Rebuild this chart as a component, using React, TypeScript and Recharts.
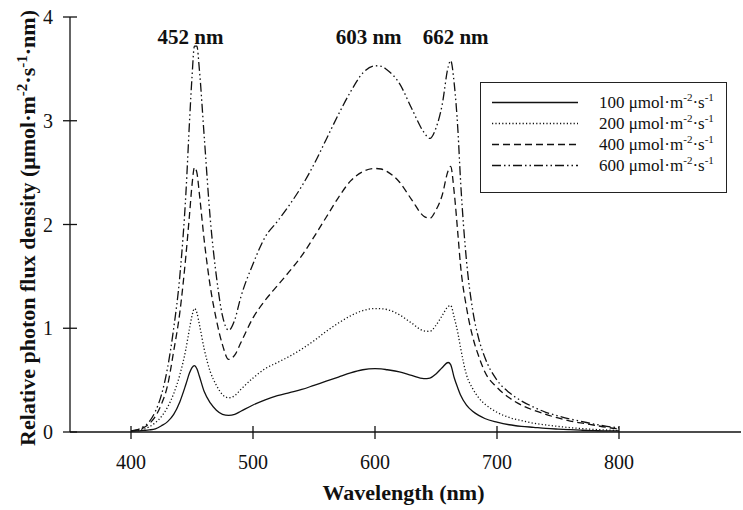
import React from 'react';
import { LineChart, Line, XAxis, YAxis, Legend, ReferenceDot } from 'recharts';

const FONT = '"Liberation Serif", "Times New Roman", Times, serif';
const INK = '#111';

const wavelengths = [400, 405, 410, 415, 420, 425, 430, 435, 440, 445, 448, 450, 452, 454, 456, 460, 465, 470, 475, 480, 485, 490, 500, 510, 520, 530, 540, 550, 560, 570, 580, 590, 600, 605, 610, 620, 630, 640, 645, 650, 655, 660, 662, 665, 668, 670, 675, 680, 685, 690, 700, 710, 720, 730, 740, 750, 760, 770, 780, 790, 800];

const series100 = [0.01, 0.01, 0.015, 0.02, 0.03, 0.06, 0.1, 0.17, 0.29, 0.46, 0.57, 0.62, 0.64, 0.61, 0.54, 0.39, 0.28, 0.21, 0.17, 0.16, 0.17, 0.2, 0.26, 0.31, 0.35, 0.38, 0.41, 0.45, 0.49, 0.53, 0.57, 0.6, 0.61, 0.608, 0.6, 0.58, 0.545, 0.515, 0.52, 0.56, 0.62, 0.67, 0.65, 0.52, 0.42, 0.36, 0.26, 0.2, 0.16, 0.13, 0.095, 0.07, 0.055, 0.045, 0.035, 0.028, 0.022, 0.017, 0.013, 0.01, 0.01];

const series200 = [0.01, 0.015, 0.025, 0.05, 0.09, 0.15, 0.24, 0.37, 0.55, 0.8, 1.0, 1.12, 1.19, 1.15, 1.04, 0.8, 0.58, 0.45, 0.36, 0.33, 0.35, 0.41, 0.52, 0.61, 0.67, 0.73, 0.8, 0.88, 0.97, 1.05, 1.12, 1.17, 1.19, 1.188, 1.18, 1.13, 1.05, 0.975, 0.97, 1.03, 1.12, 1.21, 1.22, 1.1, 0.95, 0.82, 0.55, 0.42, 0.33, 0.27, 0.19, 0.14, 0.11, 0.085, 0.068, 0.054, 0.042, 0.032, 0.025, 0.019, 0.015];

const series400 = [0.01, 0.02, 0.04, 0.08, 0.15, 0.27, 0.45, 0.78, 1.15, 1.7, 2.1, 2.38, 2.55, 2.5, 2.3, 1.85, 1.4, 1.08, 0.84, 0.7, 0.74, 0.86, 1.1, 1.27, 1.41, 1.55, 1.7, 1.88, 2.07, 2.26, 2.42, 2.51, 2.54, 2.535, 2.51, 2.41, 2.24, 2.08, 2.06, 2.14, 2.28, 2.52, 2.56, 2.3, 1.9, 1.62, 1.2, 0.92, 0.73, 0.58, 0.43, 0.33, 0.26, 0.21, 0.17, 0.135, 0.105, 0.085, 0.065, 0.045, 0.03];

const series600 = [0.01, 0.02, 0.05, 0.1, 0.2, 0.36, 0.62, 1.0, 1.5, 2.3, 3.0, 3.42, 3.72, 3.72, 3.5, 2.85, 2.05, 1.5, 1.12, 0.98, 1.08, 1.3, 1.62, 1.88, 2.03, 2.19, 2.37, 2.58, 2.82, 3.06, 3.28, 3.46, 3.53, 3.525, 3.49, 3.36, 3.12, 2.89, 2.83, 2.93, 3.15, 3.52, 3.58, 3.35, 2.9, 2.45, 1.65, 1.18, 0.9, 0.72, 0.5, 0.38, 0.3, 0.24, 0.19, 0.155, 0.125, 0.1, 0.075, 0.055, 0.04];

const seriesNames = ['100', '200', '400', '600'];
const xTicks = [400, 500, 600, 700, 800];
const yTicks = [0, 1, 2, 3, 4];
const peakWavelengths = [452, 603, 662];
const peakLabels = ['452 nm', '603 nm', '662 nm'];
const peakLabelLevel = 3.74;

const data = wavelengths.map((wl, i) => ({
  wl,
  s100: series100[i],
  s200: series200[i],
  s400: series400[i],
  s600: series600[i],
}));

const dashes = [undefined, '1.2 2.2', '7 4', '9 3 1.5 3 1.5 3'];
const peakDx = [-4, -10, 5];

const BottomTick = (props: any) => {
  const { x, y, payload } = props;
  return (
    <g>
      <line x1={x} x2={x} y1={y - 6} y2={y + 7} stroke={INK} strokeWidth={1.3} />
      <text x={x} y={y + 37} textAnchor="middle" fontFamily={FONT} fontSize={20} fill={INK}>
        {payload.value}
      </text>
    </g>
  );
};

const TopTick = (props: any) => {
  const { x, y } = props;
  return <line x1={x} x2={x} y1={y - 6} y2={y + 6} stroke={INK} strokeWidth={1.3} />;
};

const LeftTick = (props: any) => {
  const { x, y, payload } = props;
  return (
    <g>
      <line x1={x - 7} x2={x + 7} y1={y} y2={y} stroke={INK} strokeWidth={1.3} />
      <text x={x - 17} y={y + 7} textAnchor="end" fontFamily={FONT} fontSize={20} fill={INK}>
        {payload.value}
      </text>
    </g>
  );
};

const YTitle = (props: any) => {
  const cx = 35;
  const cy = 228;
  return (
    <text
      x={cx}
      y={cy}
      transform={`rotate(-90, ${cx}, ${cy})`}
      textAnchor="middle"
      fontFamily={FONT}
      fontSize={22}
      fontWeight="bold"
      fill={INK}
    >
      Relative photon flux density (μmol·m
      <tspan dy={-8} fontSize={15}>-2</tspan>
      <tspan dy={8}>·s</tspan>
      <tspan dy={-8} fontSize={15}>-1</tspan>
      <tspan dy={8}>·nm)</tspan>
    </text>
  );
};

const XTitle = (props: any) => {
  const vb = props.viewBox || {};
  const cx = vb.x + vb.width / 2;
  return (
    <text x={cx - 2} y={500} textAnchor="middle" fontFamily={FONT} fontSize={22} fontWeight="bold" fill={INK}>
      Wavelength (nm)
    </text>
  );
};

const renderLegend = (props: any) => {
  const { payload } = props;
  return (
    <div
      style={{
        width: 247,
        height: 111,
        border: '1.5px solid #222',
        boxSizing: 'border-box',
        paddingTop: 9,
        background: '#fff',
        fontFamily: FONT,
      }}
    >
      {(payload || []).map((entry: any) => (
        <div key={entry.value} style={{ display: 'flex', alignItems: 'center', height: 21 }}>
          <svg width={86} height={21} style={{ marginLeft: 11, flex: 'none', display: 'block' }}>
            <line
              x1={0}
              x2={86}
              y1={10.5}
              y2={10.5}
              stroke={INK}
              strokeWidth={1.4}
              strokeDasharray={entry.payload?.strokeDasharray}
            />
          </svg>
          <span style={{ marginLeft: 21, fontSize: 17, color: INK, whiteSpace: 'nowrap', lineHeight: 1 }}>
            {entry.value} μmol·m
            <span style={{ fontSize: '0.65em', position: 'relative', top: '-0.6em' }}>-2</span>
            ·s
            <span style={{ fontSize: '0.65em', position: 'relative', top: '-0.6em' }}>-1</span>
          </span>
        </div>
      ))}
    </div>
  );
};

export default function App() {
  const keys = ['s100', 's200', 's400', 's600'];
  return (
    <div style={{ position: 'absolute', left: 0, top: 0, width: 743, height: 510, background: '#fff' }}>
      <LineChart width={743} height={510} data={data} margin={{ top: 17, right: 2, bottom: 0, left: 0 }}>
        <XAxis
          dataKey="wl"
          type="number"
          domain={[350, 900]}
          ticks={xTicks}
          height={78}
          tickSize={0}
          tickMargin={0}
          tickLine={false}
          axisLine={{ stroke: INK, strokeWidth: 1.3 }}
          tick={<BottomTick />}
          interval={0}
          allowDataOverflow
          label={<XTitle />}
        />
        <XAxis
          xAxisId="top"
          orientation="top"
          dataKey="wl"
          type="number"
          domain={[350, 900]}
          ticks={xTicks}
          height={0}
          tickSize={0}
          tickMargin={0}
          tickLine={false}
          axisLine={{ stroke: INK, strokeWidth: 1.3 }}
          tick={<TopTick />}
          interval={0}
          allowDataOverflow
        />
        <YAxis
          type="number"
          domain={[0, 4]}
          ticks={yTicks}
          width={70}
          tickSize={0}
          tickMargin={0}
          tickLine={false}
          axisLine={{ stroke: INK, strokeWidth: 1.3 }}
          tick={<LeftTick />}
          interval={0}
          allowDataOverflow
          label={<YTitle />}
        />
        <Legend
          content={renderLegend}
          layout="vertical"
          align="center"
          verticalAlign="middle"
          wrapperStyle={{ left: 480, top: 82, width: 247, height: 111 }}
        />
        {keys.map((k, i) => (
          <Line
            key={k}
            dataKey={k}
            name={seriesNames[i]}
            type="monotone"
            stroke={INK}
            strokeWidth={1.3}
            strokeDasharray={dashes[i]}
            dot={false}
            activeDot={false}
            isAnimationActive={false}
          />
        ))}
        {peakWavelengths.map((p, i) => (
          <ReferenceDot
            key={p}
            x={p}
            y={peakLabelLevel}
            r={0}
            fill="none"
            stroke="none"
            ifOverflow="visible"
            label={(lp: any) => {
              const vb = lp.viewBox || {};
              return (
                <text
                  x={vb.x + peakDx[i]}
                  y={vb.y}
                  textAnchor="middle"
                  fontFamily={FONT}
                  fontSize={21}
                  fontWeight="bold"
                  fill={INK}
                >
                  {peakLabels[i]}
                </text>
              );
            }}
          />
        ))}
      </LineChart>
    </div>
  );
}
